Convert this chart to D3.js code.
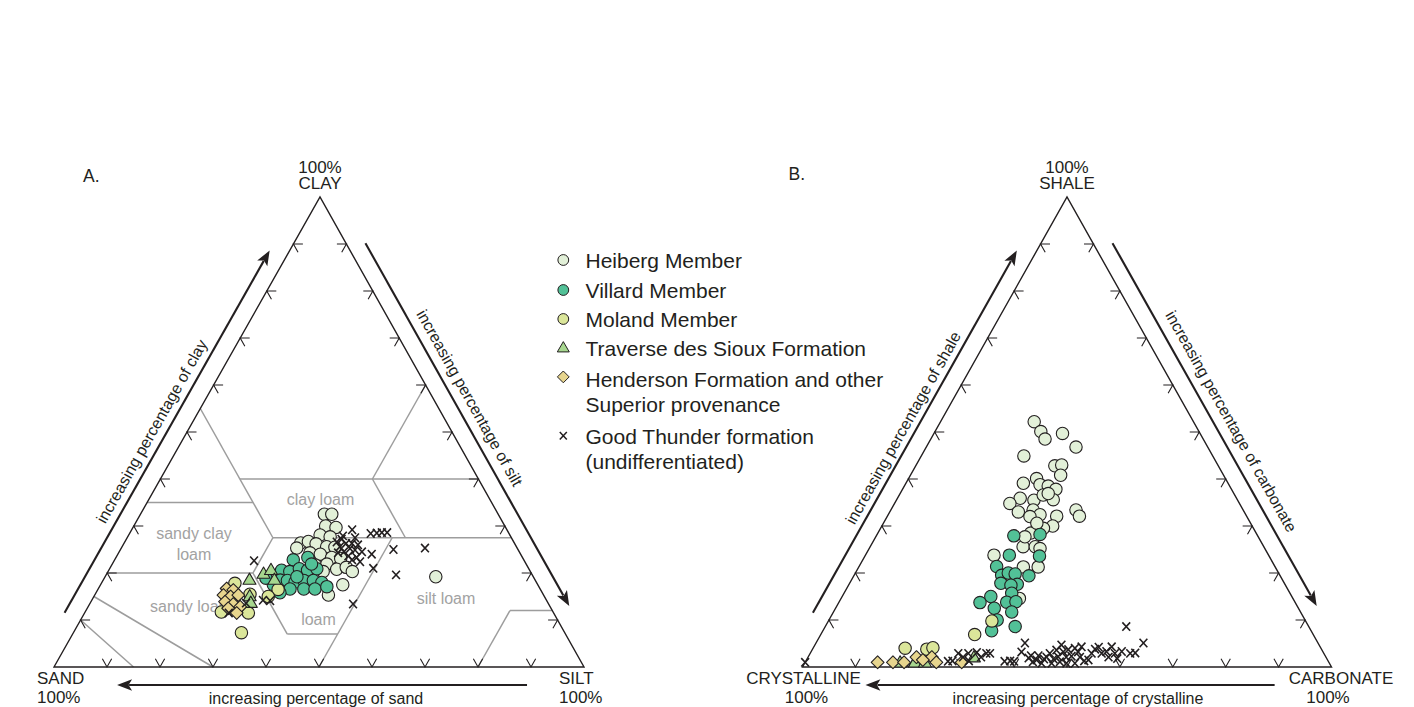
<!DOCTYPE html>
<html>
<head>
<meta charset="utf-8">
<script src="https://cdn.jsdelivr.net/npm/d3@7"></script>
<style>
  html, body { margin: 0; padding: 0; background: #fff; }
  svg { display: block; font-family: "Liberation Sans", Arial, Helvetica, sans-serif; }
</style>
</head>
<body>
<svg id="chart" width="1414" height="707"></svg>
<script>
// ---------- A. Grain size: [sand, silt, clay] in percent ----------
const soilHeiberg = [
  [32.8,34.7,32.5],[31.4,36.1,32.5],[33.8,36.2,30.0],[32.0,38.3,29.7],[35.8,36.1,28.1],[34.1,38.2,27.7],
  [40.3,33.3,26.4],[38.7,34.6,26.7],[37.5,36.3,26.2],[35.8,38.6,25.6],[34.3,40.2,25.5],[41.6,33.1,25.3],
  [39.6,36.1,24.3],[37.8,38.2,24.0],[36.0,40.7,23.3],[34.4,42.5,23.1],[39.9,38.4,21.7],[37.6,40.5,21.9],
  [36.3,42.9,20.8],[34.3,44.5,21.2],[33.6,46.1,20.3],[39.1,40.6,20.3],[36.8,45.7,17.5],[40.6,44.1,15.3],
  [18.4,62.4,19.2]
];
const soilVillard = [
  [43.5,33.7,22.8],[40.5,36.2,23.3],[46.8,32.6,20.6],[45.4,34.3,20.3],[43.3,35.8,20.9],[41.9,37.5,20.6],
  [40.0,39.1,20.9],[48.1,33.4,18.5],[46.8,34.8,18.4],[45.5,36.4,18.1],[43.7,37.9,18.4],[41.9,39.7,18.4],
  [40.5,41.5,18.0],[47.2,36.2,16.6],[44.6,38.8,16.6],[42.5,40.9,16.6],[49.5,34.7,15.8],[40.0,42.9,17.1],
  [44.6,36.2,19.2],[49.9,32.6,17.5],[40.5,37.6,21.9],[50.6,30.5,18.9]
];
const soilMoland = [
  [57.0,25.2,17.8],[61.0,31.7,7.3],[57.6,30.9,11.5],[49.5,34.0,16.5],[52.1,32.9,15.0],[62.6,25.7,11.7],
  [55.3,29.2,15.5],[59.7,25.6,14.7]
];
const soilTraverse = [
  [53.9,27.6,18.5],[50.6,29.6,19.8],[48.8,30.6,20.6],[49.2,32.3,18.5],[55.6,29.4,15.0],[56.1,30.3,13.6]
];
const soilHenderson = [
  [59.1,24.2,16.7],[58.0,25.6,16.4],[60.4,24.3,15.3],[59.2,25.8,15.0],[57.6,27.1,15.3],[60.8,25.3,13.9],
  [59.5,27.1,13.4],[58.5,28.7,12.8],[60.9,26.6,12.5],[59.8,28.7,11.5]
];
const soilGoodThunder = [
  [29.2,41.6,29.2],[26.1,45.5,28.4],[24.9,46.6,28.5],[23.9,47.5,28.6],[22.9,48.5,28.6],[32.2,40.6,27.2],
  [31.8,41.9,26.3],[33.3,41.1,25.6],[31.6,43.2,25.2],[33.1,42.4,24.5],[30.8,44.3,24.9],[32.7,43.7,23.6],
  [31.1,46.5,22.4],[28.1,47.9,24.0],[23.5,51.5,25.0],[17.4,57.3,25.3],[29.3,49.7,21.0],[25.7,54.7,19.6],
  [36.9,49.7,13.4],[51.0,26.4,22.6],[31.3,45.4,23.3],[33.4,40.0,26.6],[30.7,43.0,26.3],[53.5,32.3,14.2],
  [52.2,33.7,14.1],[61.3,27.2,11.5],[31.6,40.5,27.9],[29.5,43.0,27.5],[29.7,44.3,26.0],[34.3,41.4,24.3],
  [32.4,44.8,22.8],[29.7,45.8,24.5],[57.0,29.4,13.6]
];

// Texture class boundaries, each a pair of [sand, silt, clay] end points
const textureBoundaries = [
  [[45,15,40],[0,60,40]],
  [[45,0,55],[45,27.5,27.5]],
  [[0,40,60],[20,40,40]],
  [[20,40,40],[20,52.5,27.5]],
  [[45,27.5,27.5],[0,72.5,27.5]],
  [[65,0,35],[45,20,35]],
  [[80,0,20],[52.5,27.5,20]],
  [[45,27.5,27.5],[52.5,27.5,20]],
  [[52.5,27.5,20],[52.5,40.5,7]],
  [[52.5,40.5,7],[43,50,7]],
  [[22.5,50,27.5],[50,50,0]],
  [[85,0,15],[70,30,0]],
  [[90,0,10],[85,15,0]],
  [[20,80,0],[8,80,12]],
  [[8,80,12],[0,88,12]]
];
const textureClassNames = ["clay loam", "sandy clay", "loam", "sandy loam", "loam", "silt loam"];

// ---------- B. Pebble lithology: [crystalline, carbonate, shale] in percent ----------
const clastHeiberg = [
  [30.1,17.7,52.2],[29.9,20.0,50.1],[29.9,21.6,48.5],[26.0,24.3,49.7],[24.9,28.3,46.8],[35.7,19.4,44.9],
  [30.9,26.3,42.8],[29.5,27.5,43.0],[30.8,28.4,40.8],[38.7,22.2,39.1],[35.7,24.2,40.1],[35.7,25.5,38.8],
  [34.3,27.2,38.5],[33.2,29.0,37.8],[40.9,23.2,35.9],[38.5,26.0,35.5],[36.2,27.2,36.6],[34.8,29.6,35.6],
  [43.4,21.8,34.8],[42.7,24.3,33.0],[39.7,26.9,33.4],[38.9,28.7,32.4],[41.0,27.0,32.0],[35.9,32.0,32.1],
  [31.6,35.0,33.4],[31.6,36.3,32.1],[37.7,32.3,30.0],[42.6,28.9,28.5],[39.7,30.8,29.5],[45.5,28.9,25.6],
  [43.2,31.2,25.6],[42.5,32.3,25.2],[44.8,33.9,21.3],[47.6,31.1,21.3],[51.9,24.3,23.8],[40.4,29.0,30.6],
  [35.1,28.0,36.9],[51.7,33.7,14.6],[44.1,28.2,27.7]
];
const clastVillard = [
  [46.1,26.0,27.9],[41.0,30.8,28.2],[49.0,27.2,23.8],[43.4,33.0,23.6],[52.6,26.0,21.4],[47.5,33.1,19.4],
  [52.6,27.9,19.5],[51.1,28.9,20.0],[49.9,30.3,19.8],[50.6,31.8,17.6],[53.6,28.6,17.8],[51.9,30.7,17.4],
  [52.6,31.7,15.7],[56.9,28.1,15.0],[59.6,26.7,13.7],[54.5,31.7,13.8],[52.7,33.4,13.9],[57.5,30.0,12.5],
  [54.6,33.7,11.7],[60.4,31.9,7.7],[55.5,35.9,8.6],[58.2,31.8,10.0]
];
const clastMoland = [
  [78.6,17.4,4.0],[74.6,21.6,3.8],[73.3,22.6,4.1],[64.0,29.1,6.9],[59.3,30.9,9.8]
];
const clastTraverse = [
  [78.3,20.8,0.9],[76.4,22.7,0.9],[66.6,31.4,2.0],[81.1,18.0,0.9]
];
const clastHenderson = [
  [85.3,13.7,1.0],[82.4,16.6,1.0],[80.3,18.7,1.0],[77.4,20.5,2.1],[74.5,23.4,2.1],[74.2,24.8,1.0],
  [69.4,29.6,1.0],[76.5,22.0,1.5]
];
const clastGoodThunder = [
  [99.0,0.0,1.0],[71.0,27.7,1.3],[69.1,28.0,2.9],[68.6,29.3,2.1],[67.2,29.9,2.9],[67.9,30.8,1.3],
  [65.5,31.4,3.1],[65.2,32.7,2.1],[63.8,33.3,2.9],[61.2,37.6,1.2],[59.4,39.4,1.2],[55.4,39.5,5.1],
  [57.0,39.8,3.2],[56.3,41.8,1.9],[55.6,42.0,2.4],[55.0,43.5,1.5],[54.2,43.4,2.4],[54.4,44.8,0.8],
  [53.5,44.8,1.7],[52.8,45.1,2.1],[51.8,45.3,2.9],[52.5,46.7,0.8],[51.7,46.6,1.7],[50.2,46.2,3.6],
  [50.6,47.2,2.2],[48.7,46.6,4.7],[49.1,47.7,3.2],[49.7,49.5,0.8],[49.1,48.8,2.1],[47.9,48.4,3.7],
  [48.0,49.7,2.3],[46.5,49.5,4.0],[48.1,51.1,0.8],[46.3,50.5,3.2],[45.1,50.6,4.3],[46.5,51.4,2.1],
  [46.1,52.6,1.3],[45.2,53.3,1.5],[43.9,53.2,2.9],[42.8,53.4,3.8],[41.9,53.9,4.2],[42.0,55.1,2.9],
  [40.9,55.8,3.3],[41.1,56.8,2.1],[39.4,56.3,4.3],[39.5,57.6,2.9],[39.6,58.6,1.8],[38.0,58.7,3.3],
  [34.5,56.9,8.6],[36.6,60.5,2.9],[35.6,61.4,3.0],[33.0,61.9,5.1],[55.9,43.0,1.1],[50.8,48.1,1.1],
  [60.1,38.6,1.3],[71.9,26.9,1.2],[63.1,34.0,2.9]
];

const legendLabels = [
  ["Heiberg Member"],
  ["Villard Member"],
  ["Moland Member"],
  ["Traverse des Sioux Formation"],
  ["Henderson Formation and other", "Superior provenance"],
  ["Good Thunder formation", "(undifferentiated)"]
];

// ---------- styles ----------
const INK = "#231f20";
const unitStyles = [
  { shape: "circle",   fill: "#e2f0d8" },  // Heiberg
  { shape: "circle",   fill: "#52c197" },  // Villard
  { shape: "circle",   fill: "#dbe69a" },  // Moland
  { shape: "triangle", fill: "#a7d78f" },  // Traverse des Sioux
  { shape: "diamond",  fill: "#e7d58e" },  // Henderson
  { shape: "cross",    fill: "none" }      // Good Thunder
];

const svg = d3.select("#chart");

// Ternary projection built from linear scales: first = left vertex,
// second = right vertex, third = top vertex.
function makeTernary(left, right, apexX, baseY, apexY) {
  const yTop = d3.scaleLinear().domain([0, 100]).range([baseY, apexY]);
  const xRight = d3.scaleLinear().domain([0, 100]).range([left, right]);
  const xLean = d3.scaleLinear().domain([0, 100]).range([0, apexX - left]);
  return c => {
    const s = c[0] + c[1] + c[2];
    const r = c[1] / s * 100, t = c[2] / s * 100;
    return [xRight(r) + xLean(t), yTop(t)];
  };
}

const unit = (a, b) => {
  const dx = b[0] - a[0], dy = b[1] - a[1], L = Math.hypot(dx, dy);
  return [dx / L, dy / L];
};

function markerPath(shape, x, y, k) {
  if (shape === "triangle") {
    const w = 13 * k, h = 11.2 * k;
    return `M${x},${y - h * 0.62}L${x + w / 2},${y + h * 0.38}L${x - w / 2},${y + h * 0.38}Z`;
  }
  if (shape === "diamond") {
    const s = 6.4 * k;
    return `M${x},${y - s}L${x + s},${y}L${x},${y + s}L${x - s},${y}Z`;
  }
  if (shape === "cross") {
    const a = 3.9 * k, b = 4.2 * k;
    return `M${x - a},${y - b}L${x + a},${y + b}M${x + a},${y - b}L${x - a},${y + b}`;
  }
  return null;
}

function drawPoints(g, P, data, style) {
  const pts = data.map(P);
  if (style.shape === "circle") {
    g.selectAll(null).data(pts).enter().append("circle")
      .attr("cx", d => d[0]).attr("cy", d => d[1]).attr("r", 6.2)
      .attr("fill", style.fill).attr("stroke", INK).attr("stroke-width", 1.1);
  } else if (style.shape === "cross") {
    g.selectAll(null).data(pts).enter().append("path")
      .attr("d", d => markerPath("cross", d[0], d[1], 1))
      .attr("fill", "none").attr("stroke", INK).attr("stroke-width", 1.6);
  } else {
    g.selectAll(null).data(pts).enter().append("path")
      .attr("d", d => markerPath(style.shape, d[0], d[1], 1))
      .attr("fill", style.fill).attr("stroke", INK).attr("stroke-width", 1.1).attr("stroke-linejoin", "round");
  }
}

function drawFrame(g, P) {
  const BL = P([100, 0, 0]), BR = P([0, 100, 0]), T = P([0, 0, 100]);
  g.append("path").attr("d", `M${BL}L${T}L${BR}Z`)
    .attr("fill", "none").attr("stroke", INK).attr("stroke-width", 1.4).attr("stroke-linejoin", "miter");

  const upRight = unit(BL, T), upLeft = unit(BR, T), downRight = unit(T, BR), downLeft = unit(T, BL);
  const L = 9.5;
  const tick = (p, a1, a2) =>
    `M${p[0] + a1[0] * L},${p[1] + a1[1] * L}L${p[0]},${p[1]}L${p[0] + a2[0] * L},${p[1] + a2[1] * L}`;
  const ticks = d3.range(10, 100, 10);
  let d = "";
  ticks.forEach(v => {
    d += tick(P([100 - v, v, 0]), upRight, upLeft);
    d += tick(P([100 - v, 0, v]), [1, 0], downRight);
    d += tick(P([0, 100 - v, v]), [-1, 0], downLeft);
  });
  g.append("path").attr("d", d).attr("fill", "none").attr("stroke", INK).attr("stroke-width", 1.1);
  return { BL, BR, T };
}

function edgeArrow(g, A, B, f0, f1, off) {
  const u = unit(A, B), n = [u[1], -u[0]];
  const pt = f => [A[0] + (B[0] - A[0]) * f + n[0] * off, A[1] + (B[1] - A[1]) * f + n[1] * off];
  const s = pt(f0), e = pt(f1);
  const hl = 15, hw = 5.8;
  const base = [e[0] - u[0] * hl, e[1] - u[1] * hl];
  g.append("line").attr("x1", s[0]).attr("y1", s[1])
    .attr("x2", base[0] + u[0] * 3).attr("y2", base[1] + u[1] * 3)
    .attr("stroke", INK).attr("stroke-width", 2.1);
  g.append("path")
    .attr("d", `M${e}L${base[0] + n[0] * hw},${base[1] + n[1] * hw}L${base[0] + u[0] * 3.5},${base[1] + u[1] * 3.5}L${base[0] - n[0] * hw},${base[1] - n[1] * hw}Z`)
    .attr("fill", INK);
}

function edgeText(g, A, B, f, off, text) {
  const u = unit(A, B), n = [u[1], -u[0]];
  const p = [A[0] + (B[0] - A[0]) * f + n[0] * off, A[1] + (B[1] - A[1]) * f + n[1] * off];
  const ang = Math.atan2(u[1], u[0]) * 180 / Math.PI;
  g.append("text").attr("transform", `translate(${p[0]},${p[1]}) rotate(${ang})`)
    .attr("text-anchor", "middle").attr("font-size", 16).attr("fill", INK).text(text);
}

function label(g, x, y, text, size, anchor, fill) {
  g.append("text").attr("x", x).attr("y", y).attr("font-size", size)
    .attr("text-anchor", anchor || "start").attr("fill", fill || INK).text(text);
}

// stacked lines in one text element: lines = [[text, x], ...]
function stacked(g, y, lines, size, gap, anchor) {
  const t = g.append("text").attr("font-size", size).attr("text-anchor", anchor || "middle").attr("fill", INK);
  lines.forEach((s, i) => t.append("tspan").attr("x", s[1]).attr("y", y + i * gap).text(s[0]));
}

// ================= A. CLAY / SAND / SILT =================
const gA = svg.append("g");
const PA = makeTernary(54, 584, 320, 667, 197);

// texture class boundaries
gA.append("g").selectAll("line").data(textureBoundaries).enter().append("line")
  .attr("x1", d => PA(d[0])[0]).attr("y1", d => PA(d[0])[1])
  .attr("x2", d => PA(d[1])[0]).attr("y2", d => PA(d[1])[1])
  .attr("stroke", "#9d9d9d").attr("stroke-width", 1.5);

// texture class names
const classPos = [[320.5, 505], [194, 539], [194, 559.5], [191, 612], [318.5, 625], [446, 604]];
textureClassNames.forEach((t, i) => label(gA, classPos[i][0], classPos[i][1], t, 16, "middle", "#a2a2a2"));

const fA = drawFrame(gA, PA);

const soilSeries = [soilHeiberg, soilVillard, soilMoland, soilTraverse, soilHenderson, soilGoodThunder];
soilSeries.forEach((s, i) => drawPoints(gA.append("g"), PA, s, unitStyles[i]));

edgeArrow(gA, fA.BL, fA.T, 0.097, 0.868, 17.5);
edgeArrow(gA, fA.T, fA.BR, 0.116, 0.888, 17);
edgeArrow(gA, fA.BR, fA.BL, 0.1075, 0.881, 18);
edgeText(gA, fA.BL, fA.T, 0.469, 25.5, "increasing percentage of clay");
edgeText(gA, fA.T, fA.BR, 0.461, 26.5, "increasing percentage of silt");
label(gA, 316, 703.5, "increasing percentage of sand", 16, "middle");

label(gA, 83, 182, "A.", 17.5);
stacked(gA, 172.5, [["100%", 320], ["CLAY", 320]], 17, 16.5);
stacked(gA, 684, [["SAND", 37], ["100%", 37]], 17, 19.2, "start");
stacked(gA, 684, [["SILT", 559], ["100%", 559]], 17, 19.2, "start");

// ================= B. SHALE / CRYSTALLINE / CARBONATE =================
const gB = svg.append("g");
const PB = makeTernary(802.5, 1331.5, 1067, 667, 197);
const fB = drawFrame(gB, PB);

const clastSeries = [clastHeiberg, clastVillard, clastMoland, clastTraverse, clastHenderson, clastGoodThunder];
clastSeries.forEach((s, i) => drawPoints(gB.append("g"), PB, s, unitStyles[i]));

edgeArrow(gB, fB.BL, fB.T, 0.097, 0.868, 17.5);
edgeArrow(gB, fB.T, fB.BR, 0.116, 0.888, 17);
edgeArrow(gB, fB.BR, fB.BL, 0.1075, 0.881, 18);
edgeText(gB, fB.BL, fB.T, 0.478, 24, "increasing percentage of shale");
edgeText(gB, fB.T, fB.BR, 0.512, 27.5, "increasing percentage of carbonate");
label(gB, 1078, 703.5, "increasing percentage of crystalline", 16, "middle");

label(gB, 788.5, 180, "B.", 17.5);
stacked(gB, 172.5, [["100%", 1067], ["SHALE", 1067]], 17, 16.5);
stacked(gB, 684, [["CRYSTALLINE", 803.5], ["100%", 806.5]], 17, 19.2);
stacked(gB, 684, [["CARBONATE", 1341], ["100%", 1328]], 17, 19.2);

// ================= legend =================
const gL = svg.append("g");
const rowBase = [268.3, 298.3, 327.3, 356.3, 386.7, 443.5];
legendLabels.forEach((lines, i) => {
  const st = unitStyles[i];
  const cx = 563.3, cy = rowBase[i] - 8.3;
  if (st.shape === "circle") {
    gL.append("circle").attr("cx", cx).attr("cy", cy).attr("r", 5.4)
      .attr("fill", st.fill).attr("stroke", INK).attr("stroke-width", 1);
  } else if (st.shape === "cross") {
    gL.append("path").attr("d", markerPath("cross", cx, cy + 0.5, 0.9))
      .attr("fill", "none").attr("stroke", INK).attr("stroke-width", 1.5);
  } else {
    gL.append("path").attr("d", markerPath(st.shape, cx, cy - (st.shape === "diamond" ? 1.5 : 0), 0.92))
      .attr("fill", st.fill).attr("stroke", INK).attr("stroke-width", 1);
  }
  const t = gL.append("text").attr("font-size", 21).attr("fill", INK);
  lines.forEach((s, j) => t.append("tspan").attr("x", 585.5).attr("y", rowBase[i] + j * 25).text(s));
});
</script>
</body>
</html>
